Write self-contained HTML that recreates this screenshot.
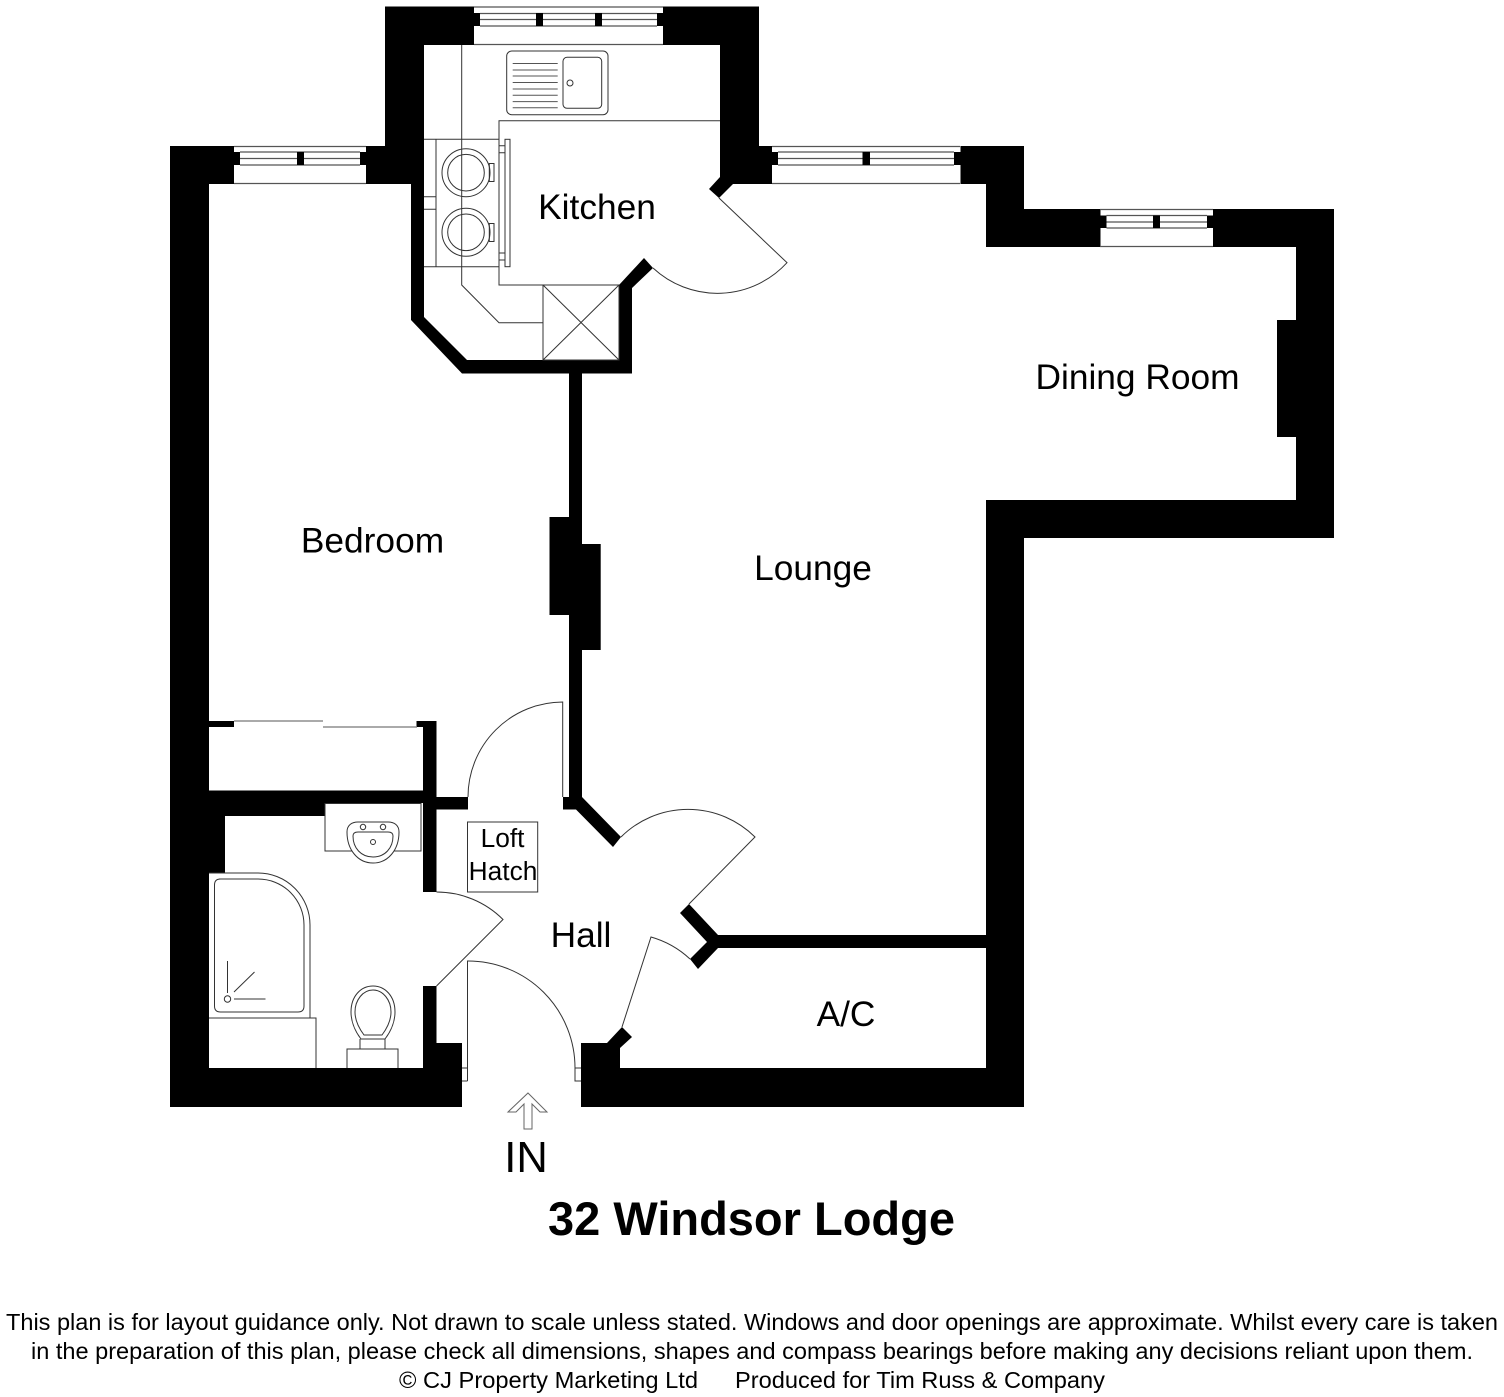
<!DOCTYPE html>
<html><head><meta charset="utf-8"><style>
html,body{margin:0;padding:0;background:#fff}
svg{display:block}
text{font-family:"Liberation Sans",Arial,sans-serif;fill:#000}
.l{fill:none;stroke:#333;stroke-width:1}
.w{fill:#000;stroke:none}
.win{stroke:#555;stroke-width:1.2;fill:none}
</style></head><body>
<svg width="1504" height="1397" viewBox="0 0 1504 1397" xmlns="http://www.w3.org/2000/svg">
<rect width="1504" height="1397" fill="#fff"/>
<!-- Walls -->
<g class="w">
<rect x="385" y="6.500" width="89" height="38.500"/>
<rect x="663" y="6.500" width="96" height="38.500"/>
<rect x="385" y="6.500" width="39" height="140"/>
<rect x="720" y="6.500" width="39" height="140"/>
<rect x="170" y="146" width="64" height="38"/>
<rect x="366" y="146" width="58" height="38"/>
<rect x="720" y="146" width="52" height="38"/>
<rect x="960.500" y="146" width="63.500" height="38"/>
<rect x="986" y="146" width="38" height="101"/>
<rect x="986" y="209" width="114.500" height="38"/>
<rect x="1213" y="209" width="121" height="38"/>
<rect x="1296" y="209" width="38" height="329"/>
<rect x="1277" y="320" width="19" height="117"/>
<rect x="986" y="500" width="348" height="38"/>
<rect x="986" y="500" width="38" height="607"/>
<rect x="581" y="1068" width="443" height="39"/>
<rect x="581" y="1043" width="39" height="25"/>
<polygon points="607,1043 622,1027 632,1037 620,1048 620,1060 607,1060"/>
<rect x="170" y="146" width="39" height="961"/>
<rect x="170" y="1068" width="292" height="39"/>
<polygon points="411,184 411,320 462,373.500 632,373.500 632,288 653,268 644,258 619,285 619,360 467,360 424,317 424,184"/>
<rect x="569" y="373" width="13" height="436"/>
<rect x="549.500" y="517" width="20" height="98"/>
<rect x="581" y="544" width="19.700" height="106"/>
<polygon points="563,797 582,797 621,837 613,847 576,809.500 563,809.500"/>
<polygon points="720,177 709,189 719,198 733,184 733,177"/>
<polygon points="689,904 718,935 986,935 986,948 718,948 698,969 690,959 707,942 680,913"/>
<rect x="209" y="721" width="25" height="6"/>
<rect x="416.500" y="721" width="20" height="6"/>
<rect x="423" y="721" width="13.500" height="171"/>
<rect x="209" y="790.500" width="227" height="12.500"/>
<rect x="423" y="797" width="45" height="12.500"/>
<rect x="209" y="803" width="116" height="13"/>
<rect x="209" y="803" width="16" height="70"/>
<rect x="423" y="986" width="13.500" height="60"/>
<rect x="423" y="1043" width="39" height="64"/>
</g>
<!-- Windows -->
<g class="win">
<path d="M474 7H663M474 44.500H663M480 13.500H657M480 19.500H657M480 26H657"/>
<path d="M234 146.500H366M234 183.500H366M240 152H360M240 158.500H360M240 165H360"/>
<path d="M772 146.500H960M772 183.500H960M778 152H954M778 158.500H954M778 165H954"/>
<path d="M1100 209.500H1213M1100 246.500H1213M1106.500 215.500H1207M1106.500 222H1207M1106.500 228H1207"/>
</g>
<g class="w">
<rect x="474" y="13" width="6" height="13"/><rect x="657" y="13" width="6" height="13"/>
<rect x="536" y="13" width="7" height="13"/><rect x="595" y="13" width="7" height="13"/>
<rect x="234" y="152" width="6" height="13"/><rect x="360" y="152" width="6" height="13"/>
<rect x="297" y="152" width="7" height="13"/>
<rect x="772" y="152" width="6" height="13"/><rect x="954" y="152" width="6.500" height="13"/>
<rect x="862.500" y="152" width="7.500" height="13"/>
<rect x="1100" y="215.500" width="6.500" height="12.500"/><rect x="1207" y="215.500" width="6" height="12.500"/>
<rect x="1153" y="215.500" width="7" height="12.500"/>
</g>
<!-- Kitchen fittings -->
<g class="l">
<path d="M461.700 45V285L499 322.700H543"/>
<path d="M720 120.700H499V285H619"/>
<rect x="543" y="285" width="76" height="75"/>
<path d="M543 285L619 360M619 285L543 360"/>
<rect x="506.700" y="51" width="101.300" height="63.700" rx="5"/>
<rect x="563" y="57.300" width="38.700" height="51" rx="4"/>
<circle cx="570" cy="83" r="3"/>
<path d="M512.700 63.500H557.700M512.700 70H557.700M512.700 76H557.700M512.700 82.500H557.700M512.700 89H557.700M512.700 95.300H557.700M512.700 101.600H557.700M512.700 107.700H557.700" stroke="#555"/>
<path d="M424 139.300H499M424 266.700H499M436 139.300V266.700M424 196.700H436M424 209.300H436"/>
<circle cx="466" cy="172.700" r="24"/><circle cx="466" cy="172.700" r="18.300"/>
<circle cx="466" cy="232.300" r="24"/><circle cx="466" cy="232.300" r="18.300"/>
<rect x="489.300" y="163.500" width="4.700" height="18"/>
<rect x="489.300" y="223.500" width="4.700" height="18"/>
<rect x="505" y="139.300" width="5" height="127.400"/>
<path d="M499 145.700H505M499 152.700H505M499 253H505M499 260H505"/>
<path d="M719 198L787 262.700A94.500 94.500 0 0 1 653 268"/>
</g>
<!-- Wardrobe door -->
<path d="M234 721H323M323 727H417" fill="none" stroke="#777" stroke-width="1.200"/>
<!-- Bathroom fittings -->
<g class="l">
<rect x="325" y="803.500" width="96" height="47.500"/>
<path d="M347 832C347 825 352 822 358 822H388C394 822 399 825 399 832C399 850 388 863 373 863C358 863 347 850 347 832Z" fill="#fff"/>
<path d="M353 836C353 833 355 832 358 832H388C391 832 393 833 393 836C393 848 385 857 373 857C361 857 353 848 353 836Z"/>
<circle cx="363" cy="827" r="2.700"/><circle cx="383" cy="827" r="2.700"/><circle cx="373" cy="842" r="2.500"/>
<path d="M209 873H258A52 52 0 0 1 310 925V1018"/>
<path d="M219 879H258A46 46 0 0 1 304 925V1006Q304 1012 298 1012H220.500Q214.500 1012 214.500 1006V885Q214.500 879 220.500 879Z"/>
<path d="M209 1018H316V1068"/>
<path d="M227.500 961V993M234 999H265.500M234 992L254.500 972"/>
<circle cx="227.500" cy="999" r="3.200"/>
<path d="M361 1039C354 1030 351 1020 351 1012C351 996 361 986 373 986C385 986 395 996 395 1012C395 1020 392 1030 385 1039Z"/>
<path d="M364 1035C358 1027 355 1019 355 1012C355 1000 363 990 373 990C383 990 391 1000 391 1012C391 1019 388 1027 382 1035Z"/>
<path d="M360 1039V1049M385 1039V1049"/>
<path d="M347 1068V1049H398V1068"/>
<path d="M436.500 892A94 94 0 0 1 503 919.500L436.500 986"/>
</g>
<!-- Hall doors -->
<g class="l">
<path d="M562.700 797V702A95 95 0 0 0 468 797"/>
<path d="M621 837A95 95 0 0 1 755 837L689 904"/>
<path d="M622 1027L651 937A95 95 0 0 1 690 959"/>
<path d="M467.500 1081V961A107 107 0 0 1 575 1068V1081H581M462 1081H467.500M462 1068H467.500M575 1068H581"/>
<rect x="467.500" y="822" width="70.200" height="70"/>
</g>
<polygon points="528,1093 547,1112 540,1112 532,1104 532,1129 524,1129 524,1104 516,1112 508,1112" fill="none" stroke="#666" stroke-width="1"/>
<!-- Labels -->
<text x="597" y="219" font-size="35.300" text-anchor="middle">Kitchen</text>
<text x="1137.500" y="389" font-size="35.300" text-anchor="middle">Dining Room</text>
<text x="372.500" y="552.500" font-size="35.300" text-anchor="middle">Bedroom</text>
<text x="813" y="580" font-size="35.300" text-anchor="middle">Lounge</text>
<text x="581" y="947" font-size="35.300" text-anchor="middle">Hall</text>
<text x="846" y="1026" font-size="35.300" text-anchor="middle">A/C</text>
<text x="502.500" y="847" font-size="26.300" text-anchor="middle">Loft</text>
<text x="503" y="880" font-size="26.300" text-anchor="middle">Hatch</text>
<text x="526" y="1172" font-size="43.500" text-anchor="middle">IN</text>
<text x="751.500" y="1235" font-size="47" font-weight="700" text-anchor="middle">32 Windsor Lodge</text>
<text x="6" y="1330" font-size="23" textLength="1492" lengthAdjust="spacingAndGlyphs">This plan is for layout guidance only. Not drawn to scale unless stated. Windows and door openings are approximate. Whilst every care is taken</text>
<text x="31" y="1359" font-size="23" textLength="1442" lengthAdjust="spacingAndGlyphs">in the preparation of this plan, please check all dimensions, shapes and compass bearings before making any decisions reliant upon them.</text>
<text x="399" y="1388" font-size="23" textLength="299" lengthAdjust="spacingAndGlyphs">© CJ Property Marketing Ltd</text>
<text x="735" y="1388" font-size="23" textLength="370" lengthAdjust="spacingAndGlyphs">Produced for Tim Russ &amp; Company</text>
</svg>
</body></html>
